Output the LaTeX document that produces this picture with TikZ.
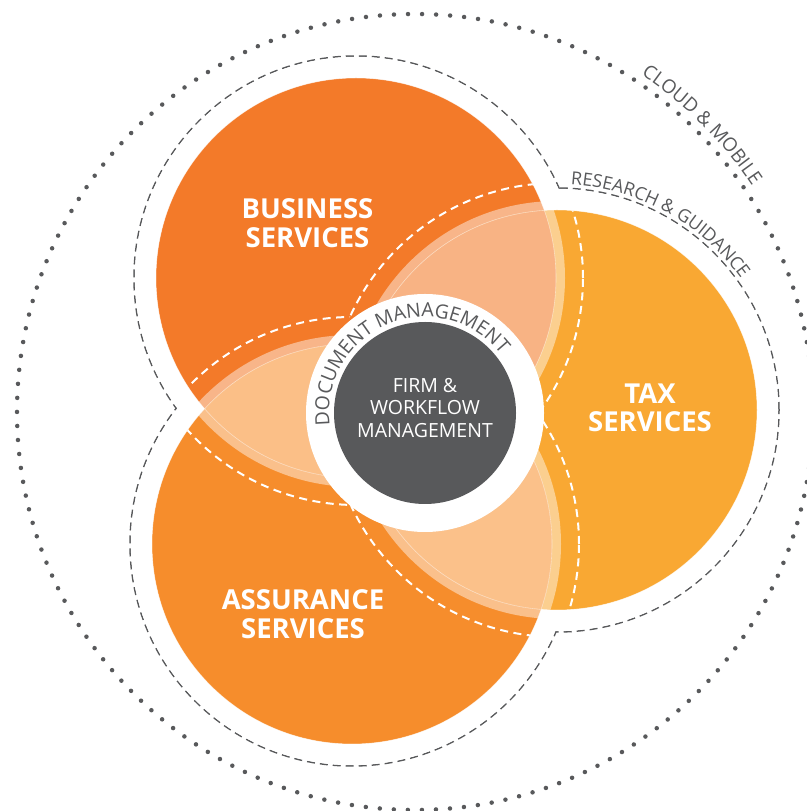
\documentclass[tikz,border=0pt]{standalone}
\usepackage{fontspec}
\setmainfont{Open Sans}
\usetikzlibrary{positioning,decorations.text}

\definecolor{bizorange}{HTML}{F37A29}
\definecolor{taxorange}{HTML}{F9A833}
\definecolor{assorange}{HTML}{F68D2C}
\definecolor{lensbt}{HTML}{F8B384}
\definecolor{lensba}{HTML}{FBBF87}
\definecolor{lensta}{HTML}{FBC18A}
\definecolor{coregrey}{HTML}{58595B}

\begin{document}
\begin{tikzpicture}[x=1pt, y=1pt]

	\tikzset{
	svclabel/.style={text=white, align=center, font=\fontsize{27.5}{28.5}\selectfont\bfseries},
	corelabel/.style={text=white, align=center, font=\fontsize{19.5}{22.5}\selectfont},
	greydash/.style={draw=coregrey, line width=1.5pt, dash pattern=on 8pt off 5pt},
	whitedash/.style={draw=white, line width=2pt, dash pattern=on 8pt off 5.5pt},
	band/.style={draw=white, draw opacity=0.45, line width=9pt},
	seam/.style={draw=white, draw opacity=0.45, line width=0.6pt}
	}

	\useasboundingbox (0,0) rectangle (806,811);

	% Centres
	\coordinate (bus) at (356,533);
	\coordinate (tax) at (557,401);
	\coordinate (ass) at (352,267);
	\coordinate (core) at (425,398);
	\coordinate (cloud) at (415,399);

	% Outer rings
	\draw[coregrey, line width=4.5pt, line cap=round, dash pattern=on 0pt off 14.05pt] (cloud) circle (398);
	\foreach \c in {bus,tax,ass}
		\draw[greydash] (\c) circle (222);
	\foreach \c in {bus,tax,ass}
		\fill[white] (\c) circle (221.2);

	% Service circles
	\fill[bizorange] (bus) circle (200);
	\fill[taxorange] (tax) circle (200);
	\fill[assorange] (ass) circle (200);

	% Overlaps
	\begin{scope}
		\clip (bus) circle (200);
		\fill[lensbt] (tax) circle (200);
		\fill[lensba] (ass) circle (200);
	\end{scope}
	\begin{scope}
		\clip (tax) circle (200);
		\fill[lensta] (ass) circle (200);
	\end{scope}
	\foreach \c in {bus,tax,ass}{
		\draw[band] (\c) circle (204.5);
		\draw[seam] (\c) circle (200);
	}

	% Guide lines
	\foreach \x/\y/\z in {bus/tax/ass, bus/ass/tax, tax/bus/ass, tax/ass/bus, ass/bus/tax, ass/tax/bus}{
		\begin{scope}[even odd rule]
			\clip (\x) circle (200);
			\clip (-50,-50) rectangle (860,860) (\z) circle (227);
			\draw[whitedash] (\y) circle (227);
		\end{scope}
	}

	% Core
	\fill[white] (core) circle (119);
	\fill[coregrey] (core) circle (91);
	\node[corelabel] (firm) at (425,403) {FIRM \&\\WORKFLOW\\MANAGEMENT};

	% Labels
	\node[svclabel] (business) at (307.5,588) {BUSINESS\\SERVICES};
	\node[svclabel] (taxlbl) at (650,403) {TAX\\SERVICES};
	\node[svclabel] (assurance) at (303,197) {ASSURANCE\\SERVICES};

	% Ring texts
	\path[decorate, decoration={text along path, text align=center, text color=coregrey,
		text={|\fontsize{19.5}{19.5}\selectfont|DOCUMENT MANAGEMENT}}]
		([shift={(200:96)}]core) arc[start angle=200, end angle=25, radius=96];
	\path[decorate, decoration={text along path, text align=center, text color=coregrey,
		text={|\fontsize{18}{18}\selectfont|RESEARCH {\&} GUIDANCE}}]
		([shift={(95:226)}]tax) arc[start angle=95, end angle=27, radius=226];
	\path[decorate, decoration={text along path, text align=center, text color=coregrey,
		text={|\fontsize{19}{19}\selectfont|CLOUD {\&} MOBILE}}]
		([shift={(62:406)}]cloud) arc[start angle=62, end angle=28, radius=406];

\end{tikzpicture}
\end{document}
